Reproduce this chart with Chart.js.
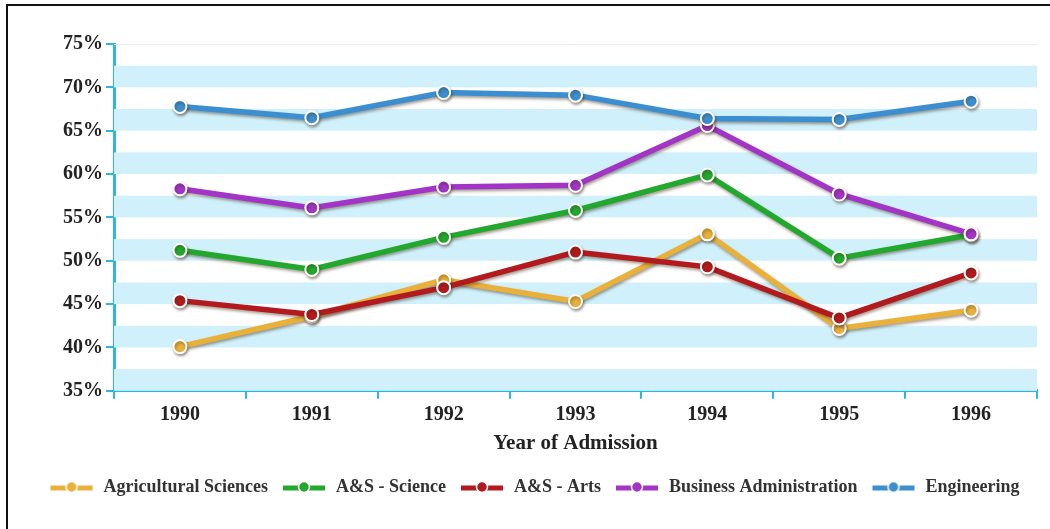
<!DOCTYPE html>
<html>
<head>
<meta charset="utf-8">
<script src="https://cdn.jsdelivr.net/npm/chart.js@4.4.1/dist/chart.umd.min.js"></script>
<style>
  html, body { margin: 0; padding: 0; background: #fff; }
  body { width: 1050px; height: 529px; overflow: hidden; position: relative; }
  #frame {
    position: absolute; left: 6px; top: 4px; width: 1060px; height: 540px;
    border-top: 2px solid #111; border-left: 2px solid #111;
  }
  #wrap { position: absolute; left: 0; top: 0; width: 1050px; height: 529px; }
</style>
</head>
<body>
<div id="frame"></div>
<div id="wrap"><canvas id="chart"></canvas></div>
<script>
// ── Data ──────────────────────────────────────────────────────────────────────
const YEARS = ['1990', '1991', '1992', '1993', '1994', '1995', '1996'];

const AGRI_SCIENCES   = [40.1, 43.6, 47.8, 45.3, 53.1, 42.2, 44.3];
const AS_SCIENCE      = [51.2, 49.0, 52.7, 55.8, 59.9, 50.3, 53.0];
const AS_ARTS         = [45.4, 43.8, 46.9, 51.0, 49.3, 43.4, 48.6];
const BUSINESS_ADMIN  = [58.3, 56.1, 58.5, 58.7, 65.6, 57.7, 53.1];
const ENGINEERING     = [67.8, 66.5, 69.4, 69.1, 66.4, 66.3, 68.4];

const SERIES = [
  { label: 'Agricultural Sciences',   data: AGRI_SCIENCES,  color: '#e9b13a' },
  { label: 'A&S - Science',           data: AS_SCIENCE,     color: '#22a82c' },
  { label: 'A&S - Arts',              data: AS_ARTS,        color: '#b21a1e' },
  { label: 'Business Administration', data: BUSINESS_ADMIN, color: '#a234c6' },
  { label: 'Engineering',             data: ENGINEERING,    color: '#3b8fd0' },
];

const AXIS_COLOR = '#2bb8d9';
const BAND_COLOR = '#d0f1fb';
const FONT = '"Liberation Serif", "DejaVu Serif", serif';

// Legend marker: short thick line with a dot in the middle
function legendIcon(color) {
  const c = document.createElement('canvas');
  c.width = 46; c.height = 14;
  const g = c.getContext('2d');
  g.strokeStyle = color;
  g.lineWidth = 5;
  g.beginPath(); g.moveTo(2, 8); g.lineTo(44, 8); g.stroke();
  g.fillStyle = color;
  g.strokeStyle = '#fff';
  g.lineWidth = 1.5;
  g.beginPath(); g.arc(23, 7, 5.5, 0, Math.PI * 2); g.fill(); g.stroke();
  return c;
}

// Alternating horizontal stripes every 2.5% behind the lines
const stripePlugin = {
  id: 'stripes',
  beforeDatasetsDraw(chart) {
    const { ctx, chartArea: a, scales: { y } } = chart;
    ctx.save();
    ctx.fillStyle = BAND_COLOR;
    for (let v = y.min; v < y.max; v += 5) {
      const top = y.getPixelForValue(v + 2.5);
      const bot = y.getPixelForValue(v);
      ctx.fillRect(a.left, top, a.right - a.left, bot - top);
    }
    ctx.strokeStyle = '#e6eef0';
    ctx.lineWidth = 1;
    ctx.beginPath();
    ctx.moveTo(a.left, y.getPixelForValue(y.max) + 0.5);
    ctx.lineTo(a.right, y.getPixelForValue(y.max) + 0.5);
    ctx.stroke();
    ctx.restore();
  },
};

// Soft drop shadow under the series lines
const shadowPlugin = {
  id: 'lineShadow',
  beforeDatasetsDraw(chart) {
    const ctx = chart.ctx;
    ctx.save();
    ctx.shadowColor = 'rgba(60,40,20,0.45)';
    ctx.shadowOffsetX = 1;
    ctx.shadowOffsetY = 2;
    ctx.shadowBlur = 3;
  },
  afterDatasetsDraw(chart) {
    chart.ctx.restore();
  },
};

new Chart(document.getElementById('chart').getContext('2d'), {
  type: 'line',
  data: {
    labels: YEARS,
    datasets: SERIES.map((s, i) => ({
      label:                s.label,
      data:                 s.data,
      borderColor:          s.color,
      backgroundColor:      s.color,
      borderWidth:          5.5,
      pointRadius:          6.5,
      pointBorderWidth:     2,
      pointBorderColor:     '#fff',
      pointBackgroundColor: s.color,
      tension:              0,
      order:                SERIES.length - i,   // later series drawn on top
      _icon:                legendIcon(s.color),
    })),
  },
  options: {
    responsive:          true,
    maintainAspectRatio: false,
    animation:           false,
    layout: { padding: { top: 44, right: 13, left: 31, bottom: 23 } },
    plugins: {
      tooltip: { enabled: false },
      legend: {
        position: 'bottom',
        labels: {
          usePointStyle:  true,
          pointStyleWidth: 46,
          padding:        13,
          color:          '#333',
          font:           { family: FONT, size: 18, weight: 'bold' },
          sort:           (a, b) => a.datasetIndex - b.datasetIndex,
          generateLabels(chart) {
            return chart.data.datasets.map((ds, i) => ({
              text:         ds.label,
              pointStyle:   ds._icon,
              fillStyle:    ds.borderColor,
              strokeStyle:  ds.borderColor,
              lineWidth:    0,
              hidden:       false,
              datasetIndex: i,
              fontColor:    '#333',
            }));
          },
        },
      },
    },
    scales: {
      x: {
        offset: true,
        grid: {
          offset: true, drawOnChartArea: false,
          color: AXIS_COLOR, lineWidth: 2, tickLength: 8,
        },
        border: { color: AXIS_COLOR, width: 3 },
        ticks: {
          color: '#222', padding: 4,
          font: { family: FONT, size: 20, weight: 'bold' },
        },
        title: {
          display: true, text: 'Year of Admission', color: '#222',
          padding: { top: 0, bottom: 9 },
          font: { family: FONT, size: 21, weight: 'bold' },
        },
      },
      y: {
        min: 35, max: 75,
        grid: {
          drawOnChartArea: false,
          color: AXIS_COLOR, lineWidth: 2, tickLength: 8,
        },
        border: { color: AXIS_COLOR, width: 3 },
        ticks: {
          stepSize: 5, color: '#222', padding: 3,
          font: { family: FONT, size: 20, weight: 'bold' },
          callback: v => v + '%',
        },
        afterFit(scale) { scale.width = 83; },
      },
    },
  },
  plugins: [stripePlugin, shadowPlugin],
});
</script>
</body>
</html>
